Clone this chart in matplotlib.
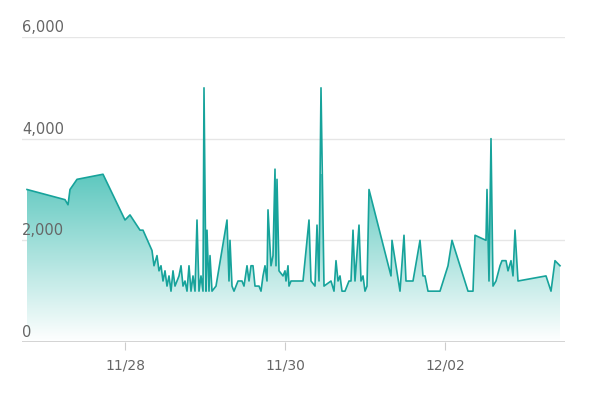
import matplotlib
matplotlib.use("Agg")
import matplotlib.pyplot as plt
import numpy as np
from matplotlib.colors import LinearSegmentedColormap

# hours since 11/26 00:00
hours = [18.6,30,30.9,31.5,33.6,41.4,48,49.5,52.5,53.4,56.1,56.7,57.6,58.2,58.8,59.4,60,60.6,61.2,61.8,
 62.4,63,63.6,64.2,64.8,65.4,66,66.6,67.2,67.8,68.4,69,69.6,70.2,70.8,71.4,71.7,72.3,72.6,73.2,73.5,74.1,75.3,
 78.6,79.2,79.5,80.1,80.7,81.9,83.1,83.7,84.6,85.2,85.8,86.4,87,87.6,88.2,88.8,89.4,90,90.6,90.9,91.8,92.4,
 93,93.3,93.6,94.2,95.4,96,96.3,96.9,97.2,97.8,101.4,103.2,103.8,105,105.6,106.2,106.8,107.7,109.8,110.7,
 111.3,111.9,112.5,113.1,114,115.2,115.8,116.4,117,118.2,118.8,119.4,120,120.6,121.2,127.8,128.1,129.3,
 130.5,131.7,132.3,133.2,134.4,136.5,137.4,138,138.9,141.6,142.5,144.9,146.1,150.9,152.4,153,156.3,156.6,
 157.2,157.8,158.4,159.3,160.5,161.1,162.3,162.9,163.8,164.4,165,165.9,174.3,175.8,177,178.5]
values = [3000,2800,2700,3000,3200,3300,2400,2500,2200,2200,1800,1500,1700,1400,1500,1200,1400,1100,1300,1000,
 1400,1100,1200,1300,1500,1100,1200,1000,1500,1000,1300,1000,2400,1000,1300,1000,5000,1000,2200,1000,1700,1000,1100,
 2400,1200,2000,1100,1000,1200,1200,1100,1500,1200,1500,1500,1100,1100,1100,1000,1300,1500,1200,2600,1500,1700,
 3400,1500,3200,1400,1300,1400,1200,1500,1100,1200,1200,2400,1200,1100,2300,1200,5000,1100,1200,1000,
 1600,1200,1300,1000,1000,1200,1200,2200,1200,2300,1200,1300,1000,1100,3000,1300,2000,
 1500,1000,2100,1200,1200,1200,2000,1300,1300,1000,1000,1000,1500,2000,1000,1000,2100,2000,3000,
 1200,4000,1100,1200,1500,1600,1600,1400,1600,1300,2200,1200,1300,1000,1600,1500]
tick_hours = [48, 96, 144]
tick_labels = ["11/28", "11/30", "12/02"]
y_ticks = [0, 2000, 4000, 6000]
y_labels = ["0", "2,000", "4,000", "6,000"]

line_c = "#17a39b"
fig = plt.figure(figsize=(5.91, 4.03), dpi=100)
ax = fig.add_axes([22/591, 61/403, 543/591, 305/403])
ax.set_xlim(17.1, 180)
ax.set_ylim(0, 6000)
for s in ax.spines.values():
    s.set_visible(False)
for yt in y_ticks[1:]:
    ax.axhline(yt, color="#e6e6e6", lw=1, zorder=0)
ax.axhline(0, color="#cccccc", lw=1.2, zorder=3)

poly = ax.fill_between(hours, values, 0, color="none", lw=0)
cmap = LinearSegmentedColormap.from_list("g", ["#ffffff", "#5ec8bf"])
grad = np.linspace(0, 1, 256).reshape(-1, 1)
im = ax.imshow(grad, aspect="auto", cmap=cmap, origin="lower",
               extent=[hours[0], hours[-1], 0, 3300], zorder=1)
paths = poly.get_paths()
im.set_clip_path(paths[0], transform=ax.transData)
ax.plot(hours, values, color=line_c, lw=1.2, zorder=2)

ax.set_xticks(tick_hours)
ax.set_xticklabels(tick_labels, color="#666666", fontsize=10)
ax.tick_params(axis="x", length=6, color="#cccccc", pad=6)
ax.set_yticks([])
for yt, lab in zip(y_ticks, y_labels):
    ax.text(0, yt + 40, lab, transform=ax.get_yaxis_transform(), ha="left", va="bottom",
            color="#666666", fontsize=10.5)
fig.savefig("out.png", dpi=100)
